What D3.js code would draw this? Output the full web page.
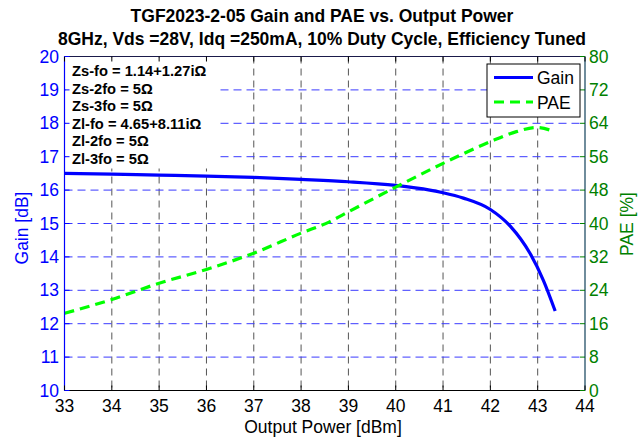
<!DOCTYPE html>
<html><head><meta charset="utf-8">
<script src="https://cdn.jsdelivr.net/npm/d3@7"></script>
<style>body{margin:0;background:#fff}svg{display:block;font-family:"Liberation Sans",Arial,sans-serif}</style>
</head><body><svg id="c" width="644" height="438"></svg>
<script>
const gainX = [33, 34, 35, 36, 37, 38, 39, 40, 40.72, 41, 41.43, 42, 42.42, 42.84, 43.12, 43.37];
const gainY = [16.5, 16.48, 16.45, 16.42, 16.38, 16.32, 16.25, 16.14, 16.0, 15.92, 15.76, 15.42, 14.92, 14.1, 13.3, 12.38];
const paeX = [33, 34, 35, 36, 37, 38, 38.6, 39, 40, 41, 42, 42.55, 42.97, 43.36];
const paeY = [18.5, 21.8, 25.7, 29.0, 32.9, 37.7, 40.4, 42.8, 48.7, 54.4, 59.6, 62.0, 63.0, 62.0];
const xTicks = [33,34,35,36,37,38,39,40,41,42,43,44];
const gainTicks = [10,11,12,13,14,15,16,17,18,19,20];
const paeTicks = [0,8,16,24,32,40,48,56,64,72,80];
const notes = ["Zs-fo = 1.14+1.27i\u03A9","Zs-2fo = 5\u03A9","Zs-3fo = 5\u03A9","Zl-fo = 4.65+8.11i\u03A9","Zl-2fo = 5\u03A9","Zl-3fo = 5\u03A9"];
const titles = ["TGF2023-2-05 Gain and PAE vs. Output Power","8GHz, Vds =28V, Idq =250mA, 10% Duty Cycle, Efficiency Tuned"];

const L=64.5, R=585, T=56.5, B=390.5;
const FS=17.5;
const svg = d3.select("#c");
const x = d3.scaleLinear().domain([33,44]).range([L,R]);
const yG = d3.scaleLinear().domain([10,20]).range([B,T]);
const yP = d3.scaleLinear().domain([0,80]).range([B,T]);

// grid
const g = svg.append("g");
g.selectAll(".vg").data(xTicks.slice(1,-1)).join("line")
  .attr("x1",d=>x(d)).attr("x2",d=>x(d)).attr("y1",T).attr("y2",B)
  .attr("stroke","#555").attr("stroke-width",1).attr("stroke-dasharray","7,5");
g.selectAll(".hg").data(gainTicks.slice(1,-1)).join("line")
  .attr("x1",L).attr("x2",R).attr("y1",d=>yG(d)).attr("y2",d=>yG(d))
  .attr("stroke","#3a3aff").attr("stroke-width",1).attr("stroke-dasharray","8,5");

// annotation white box
svg.append("rect").attr("x",L+1).attr("y",T+1).attr("width",151).attr("height",111).attr("fill","#fff");
svg.append("g").selectAll("text").data(notes).join("text")
  .attr("x",72).attr("y",(d,i)=>76+i*17.5)
  .attr("font-size",14.7).attr("font-weight","bold").attr("fill","#000").text(d=>d);

// lines
const lineG = d3.line().x((d,i)=>x(gainX[i])).y(d=>yG(d)).curve(d3.curveMonotoneX);
svg.append("path").attr("d",lineG(gainY)).attr("fill","none").attr("stroke","#0000ff").attr("stroke-width",3.2);
const lineP = d3.line().x((d,i)=>x(paeX[i])).y(d=>yP(d)).curve(d3.curveMonotoneX);
svg.append("path").attr("d",lineP(paeY)).attr("fill","none").attr("stroke","#00ff00").attr("stroke-width",3.2).attr("stroke-dasharray","10,6");

// axes
const ax = svg.append("g");
ax.append("line").attr("x1",L).attr("x2",R).attr("y1",B).attr("y2",B).attr("stroke","#000").attr("stroke-width",1.2);
ax.append("line").attr("x1",L).attr("x2",R).attr("y1",T).attr("y2",T).attr("stroke","#1a1a4a").attr("stroke-width",1.2);
ax.append("line").attr("x1",L).attr("x2",L).attr("y1",T).attr("y2",B).attr("stroke","#0000ff").attr("stroke-width",1.2);
ax.append("line").attr("x1",R).attr("x2",R).attr("y1",T).attr("y2",B).attr("stroke","#10405a").attr("stroke-width",1.2);
ax.selectAll(".xt").data(xTicks).join("line").attr("x1",d=>x(d)).attr("x2",d=>x(d)).attr("y1",B).attr("y2",B-5).attr("stroke","#000");
ax.selectAll(".xt2").data(xTicks).join("line").attr("x1",d=>x(d)).attr("x2",d=>x(d)).attr("y1",T).attr("y2",T+5).attr("stroke","#000");
ax.selectAll(".xl").data(xTicks).join("text").attr("x",d=>x(d)).attr("y",412).attr("text-anchor","middle")
  .attr("font-size",FS).attr("fill","#000").text(d=>d);
ax.selectAll(".lt").data(gainTicks).join("line").attr("x1",L).attr("x2",L+5).attr("y1",d=>yG(d)).attr("y2",d=>yG(d)).attr("stroke","#0000ff");
ax.selectAll(".ll").data(gainTicks).join("text").attr("x",59).attr("y",d=>yG(d)+6).attr("text-anchor","end")
  .attr("font-size",FS).attr("fill","#0000ff").text(d=>d);
ax.selectAll(".rt").data(paeTicks).join("line").attr("x1",R).attr("x2",R-5).attr("y1",d=>yP(d)).attr("y2",d=>yP(d)).attr("stroke","#008000");
ax.selectAll(".rl").data(paeTicks).join("text").attr("x",589).attr("y",d=>yP(d)+6).attr("text-anchor","start")
  .attr("font-size",FS).attr("fill","#008000").text(d=>d);

// axis titles
svg.append("text").attr("transform","translate(28,228) rotate(-90)").attr("text-anchor","middle")
  .attr("font-size",FS).attr("fill","#0000ff").text("Gain [dB]");
svg.append("text").attr("transform","translate(633,224) rotate(-90)").attr("text-anchor","middle")
  .attr("font-size",FS).attr("fill","#008000").text("PAE [%]");
svg.append("text").attr("x",323).attr("y",433).attr("text-anchor","middle").attr("font-size",FS).attr("fill","#000").text("Output Power [dBm]");

// titles
svg.selectAll(".tt").data(titles).join("text").attr("x",322).attr("y",(d,i)=>22+i*23)
  .attr("text-anchor","middle").attr("font-size",17.5).attr("font-weight","bold").attr("fill","#000").text(d=>d);

// legend
const lg = svg.append("g");
lg.append("rect").attr("x",487).attr("y",64).attr("width",93).attr("height",53).attr("fill","#fff").attr("stroke","#000").attr("stroke-width",1);
const legItems = [{n:"Gain",c:"#0000ff",d:null},{n:"PAE",c:"#00ff00",d:"10,6"}];
legItems.forEach((it,i)=>{
  const yy = 77.5+i*24.5;
  lg.append("line").attr("x1",494).attr("x2",533).attr("y1",yy).attr("y2",yy).attr("stroke",it.c).attr("stroke-width",3.2).attr("stroke-dasharray",it.d);
  lg.append("text").attr("x",537).attr("y",yy+6.5).attr("font-size",17.5).attr("fill","#000").text(it.n);
});
</script></body></html>
